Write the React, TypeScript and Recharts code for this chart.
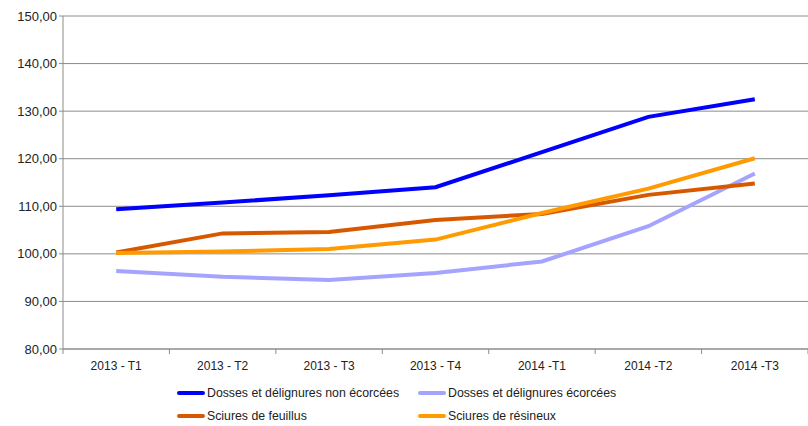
import { CartesianGrid, Line, LineChart, XAxis, YAxis } from 'recharts'

const periods = ['2013 - T1', '2013 - T2', '2013 - T3', '2013 - T4', '2014 -T1', '2014 -T2', '2014 -T3']

const nonEcorcees = [109.4, 110.8, 112.3, 114.0, 121.4, 128.8, 132.5]
const ecorcees = [96.4, 95.2, 94.5, 96.0, 98.4, 105.8, 116.9]
const feuillus = [100.3, 104.3, 104.6, 107.1, 108.4, 112.4, 114.8]
const resineux = [100.2, 100.5, 101.0, 103.0, 108.6, 113.7, 120.1]

const yTicks = [80, 90, 100, 110, 120, 130, 140, 150]

const SERIES = [
  { key: 'nonEcorcees', label: 'Dosses et délignures non écorcées', color: '#0000ff' },
  { key: 'ecorcees', label: 'Dosses et délignures écorcées', color: '#a4a4ff' },
  { key: 'feuillus', label: 'Sciures de feuillus', color: '#d85800' },
  { key: 'resineux', label: 'Sciures de résineux', color: '#ff9a00' },
]

const data = periods.map((p, i) => ({
  period: p,
  nonEcorcees: nonEcorcees[i],
  ecorcees: ecorcees[i],
  feuillus: feuillus[i],
  resineux: resineux[i],
}))

const FONT = '"Liberation Sans", Arial, sans-serif'
const HALF_BAND = 53.2

function XTick(props: any) {
  const { x, y, payload, index } = props
  const left = x - HALF_BAND
  return (
    <g>
      <line x1={left} y1={y - 8} x2={left} y2={y - 3} stroke="#8c8c8c" />
      {index === periods.length - 1 && (
        <line x1={x + HALF_BAND} y1={y - 8} x2={x + HALF_BAND} y2={y - 3} stroke="#8c8c8c" />
      )}
      <text x={x} y={y + 13} textAnchor="middle" fontSize={12} fill="#222" fontFamily={FONT}>
        {payload.value}
      </text>
    </g>
  )
}

const legendPos = [
  { left: 177, top: 386 },
  { left: 418, top: 386 },
  { left: 177, top: 409 },
  { left: 418, top: 409 },
]

export default function App() {
  return (
    <div style={{ position: 'absolute', left: 0, top: 0, width: 808, height: 426, background: '#fff' }}>
      <LineChart
        width={808}
        height={426}
        data={data}
        margin={{ top: 16, right: 0, bottom: 47, left: 0 }}
      >
        <CartesianGrid vertical={false} stroke="#8c8c8c" />
        <XAxis
          dataKey="period"
          padding={{ left: HALF_BAND, right: HALF_BAND }}
          height={30}
          stroke="#8c8c8c"
          tickLine={false}
          tick={<XTick />}
          interval={0}
        />
        <YAxis
          domain={[80, 150]}
          ticks={yTicks}
          width={63}
          stroke="#8c8c8c"
          tickSize={4}
          tickFormatter={(v: number) => v.toFixed(2).replace('.', ',')}
          tick={{ fontSize: 13, fill: '#222', fontFamily: FONT }}
        />
        {SERIES.map((s) => (
          <Line
            key={s.key}
            dataKey={s.key}
            stroke={s.color}
            strokeWidth={4}
            dot={false}
            activeDot={false}
            type="linear"
            isAnimationActive={false}
          />
        ))}
      </LineChart>
      {SERIES.map((s, i) => (
        <div
          key={s.key}
          style={{
            position: 'absolute',
            left: legendPos[i].left,
            top: legendPos[i].top,
            display: 'flex',
            alignItems: 'center',
            fontFamily: FONT,
            fontSize: 12.3,
            color: '#222',
            whiteSpace: 'nowrap',
          }}
        >
          <span
            style={{
              display: 'inline-block',
              width: 28,
              height: 4,
              borderRadius: 2,
              background: s.color,
              marginRight: 2,
            }}
          />
          <span>{s.label}</span>
        </div>
      ))}
    </div>
  )
}
